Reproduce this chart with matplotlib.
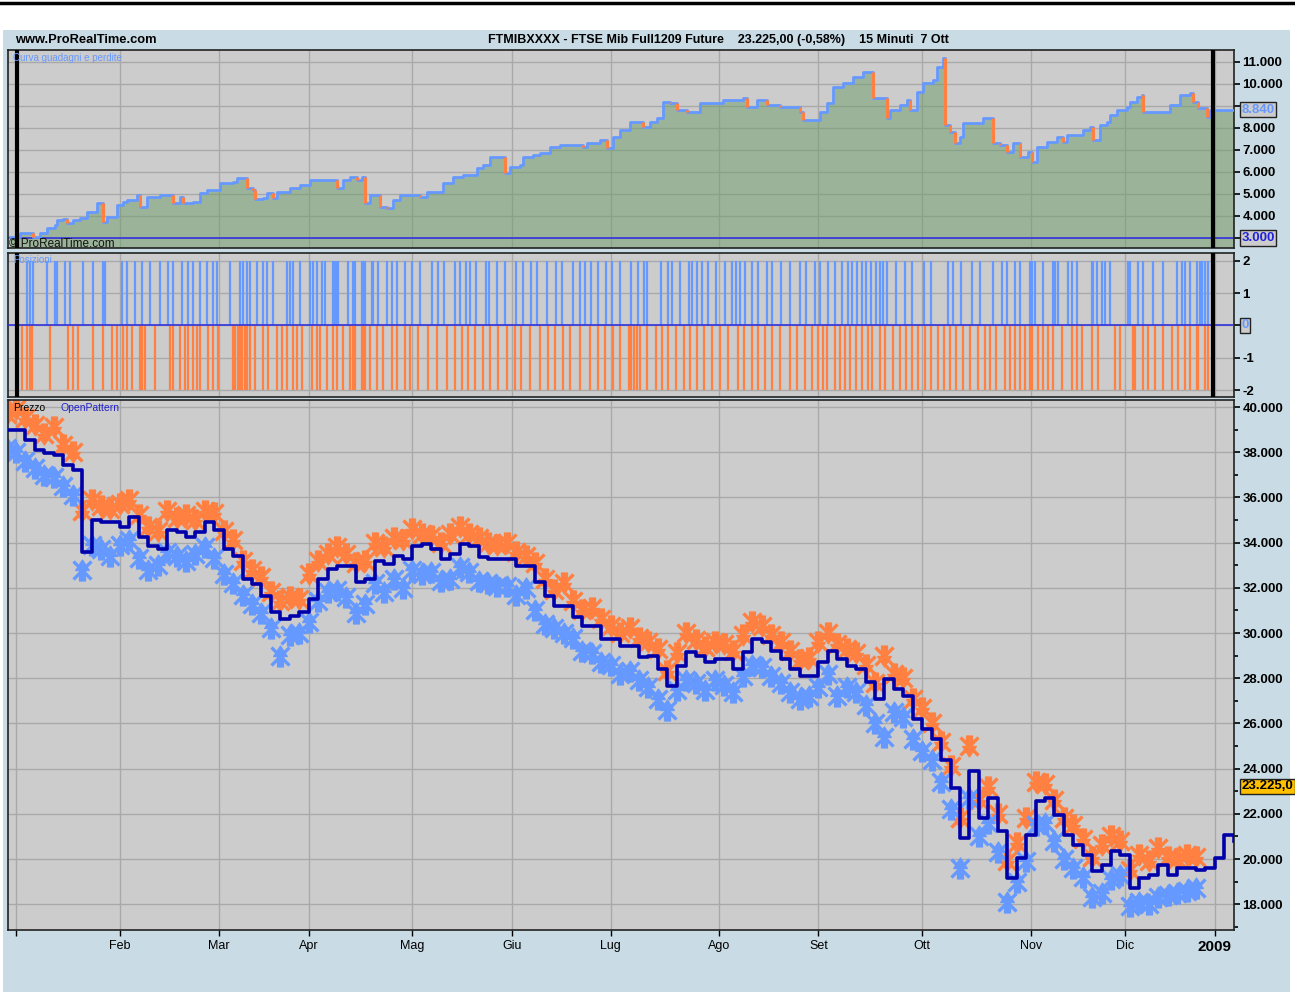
import numpy as np
import matplotlib.pyplot as plt
from matplotlib.path import Path
from matplotlib.patches import Rectangle
from matplotlib.lines import Line2D

# ---- data (x = trading day, 0 = 2 Jan 2008) ----
month_days = [0, 22, 43, 62, 84, 105, 126, 149, 170, 192, 215, 235, 254]
month_labels = ["", "Feb", "Mar", "Apr", "Mag", "Giu", "Lug", "Ago", "Set", "Ott", "Nov", "Dic", "2009"]
backtest_start = 0.2
backtest_end = 253.6

# equity curve (day, value)
equity = [
    (-1.3, 3050), (0.8, 3230), (3.6, 3050), (5.1, 3230), (6.6, 3450), (8.3, 3590), (8.7, 3820), (10.0, 3860),
    (10.8, 3680), (12.1, 3820), (13.6, 3910), (15.0, 4180), (17.2, 4590), (18.4, 3730), (19.3, 3950), (21.4, 4500),
    (22.7, 4640), (23.5, 4730), (25.6, 4950), (26.3, 4410), (27.8, 4860), (30.5, 4950), (33.3, 4590), (34.7, 4860),
    (35.4, 4590), (37.5, 4640), (39.0, 5050), (40.5, 5180), (43.2, 5500), (46.0, 5550), (46.8, 5730), (48.9, 5270),
    (50.2, 5180), (50.6, 4770), (52.3, 4820), (53.2, 5050), (54.4, 4820), (55.3, 5090), (58.1, 5270), (60.2, 5410),
    (62.3, 5640), (68.0, 5270), (69.3, 5640), (70.8, 5770), (72.2, 5640), (73.3, 5770), (73.9, 4590), (75.0, 4950),
    (77.1, 4410), (78.6, 4360), (79.9, 4730), (81.4, 4950), (85.6, 4860), (87.1, 5090), (90.5, 5500), (92.6, 5770),
    (94.7, 5860), (97.7, 6180), (98.9, 6320), (100.4, 6680), (103.6, 5950), (104.7, 6230), (106.8, 6320),
    (107.4, 6680), (109.5, 6770), (111.0, 6860), (113.1, 7140), (115.3, 7230), (120.1, 7140), (121.0, 7320),
    (123.7, 7450), (125.2, 7090), (126.5, 7590), (128.0, 7910), (130.1, 8270), (132.8, 8050), (134.3, 8270),
    (135.8, 8450), (137.1, 9180), (138.6, 9140), (140.0, 8820), (142.2, 8730), (144.9, 9140), (149.8, 9270),
    (154.0, 9360), (154.9, 8950), (157.0, 9270), (159.1, 9050), (161.9, 8950), (166.1, 8730), (166.7, 8360),
    (170.3, 8730), (171.8, 9140), (173.1, 9860), (175.2, 10050), (177.3, 10320), (179.4, 10550), (181.6, 9360),
    (184.5, 8450), (185.2, 8820), (187.3, 9050), (188.8, 9270), (189.4, 8820), (190.9, 9640), (192.2, 10050),
    (194.3, 10180), (195.1, 10770), (196.4, 11180), (196.8, 8140), (197.9, 7820), (198.9, 7320), (200.0, 7590),
    (200.6, 8230), (204.9, 8450), (207.0, 7320), (208.5, 7230), (210.0, 6910), (211.2, 7320), (212.7, 6680),
    (214.4, 6910), (215.3, 6450), (216.3, 7140), (218.4, 7360), (220.6, 7590), (221.8, 7360), (222.7, 7680),
    (226.1, 7910), (227.5, 8050), (228.2, 7450), (229.7, 8140), (231.1, 8270), (231.8, 8590), (233.3, 8820),
    (235.4, 8950), (236.0, 9180), (237.5, 9410), (238.6, 9500), (238.8, 8730), (244.5, 9050), (246.6, 9500),
    (248.7, 9590), (249.4, 9180), (250.4, 8910), (252.3, 8500), (252.9, 8840), (258.0, 8840),
]
equity_last = 8840
equity_start = 3000

# positions: long (+2) and short (-2) bars
long_days = [2.3, 3.0, 3.6, 6.6, 8.3, 8.7, 10.4, 11.4, 14.2, 16.3, 18.4, 18.9, 22.5, 23.5, 25.2, 26.7, 28.4,
             30.5, 32.2, 33.3, 35.2, 36.4, 37.5, 39.0, 40.5, 41.7, 42.6, 45.3, 47.5, 48.1, 48.9, 49.6, 51.1,
             52.3, 53.2, 54.5, 57.4, 58.1, 58.7, 60.2, 62.3, 62.9, 63.8, 64.8, 65.5, 67.2, 67.6, 68.0, 68.2,
             70.4, 71.4, 71.8, 73.3, 73.5, 74.0, 75.4, 75.6, 76.7, 78.6, 79.7, 80.7, 82.4, 83.9, 85.6, 88.1,
             89.4, 90.7, 93.0, 94.1, 95.3, 96.2, 97.5, 99.6, 100.2, 101.9, 103.6, 106.0, 107.4, 109.1, 110.4,
             112.5, 114.4, 115.7, 118.0, 119.5, 120.6, 121.8, 123.3, 125.0, 126.3, 128.0, 130.3, 131.8, 133.1,
             133.7, 136.7, 138.1, 139.0, 140.7, 142.6, 143.2, 144.3, 145.3, 146.6, 148.3, 150.2, 151.7, 152.5,
             153.4, 154.4, 155.9, 157.2, 159.1, 160.2, 162.1, 164.0, 166.1, 167.4, 169.3, 170.3, 172.0, 173.5,
             175.0, 176.3, 177.1, 178.2, 179.2, 180.1, 181.1, 182.2, 183.1, 183.7, 184.5, 186.4, 188.3, 189.8,
             192.4, 193.9, 197.5, 198.5, 200.2, 202.5, 204.2, 207.0, 208.9, 210.0, 211.7, 212.7, 214.8, 215.3,
             215.9, 217.6, 219.7, 220.1, 220.8, 222.9, 223.7, 224.8, 228.0, 228.2, 229.0, 230.1, 230.7, 231.8,
             235.6, 236.0, 237.7, 238.8, 240.9, 243.0, 245.9, 247.0, 247.7, 248.7, 250.2, 250.8, 251.3, 251.9,
             252.5]
short_days = [1.3, 2.3, 3.0, 3.4, 7.2, 11.0, 12.1, 13.1, 16.3, 18.4, 20.3, 21.4, 22.7, 23.5, 24.6, 26.3, 26.7,
              27.3, 29.4, 32.6, 33.3, 34.7, 35.8, 36.4, 37.5, 38.3, 39.0, 40.7, 41.7, 42.8, 46.0, 46.4, 47.0,
              47.5, 47.9, 48.5, 48.9, 49.6, 50.6, 52.3, 53.4, 55.3, 56.4, 57.4, 58.7, 59.5, 60.6, 62.7, 63.8,
              64.4, 65.9, 67.2, 68.0, 69.3, 70.8, 71.4, 71.8, 73.3, 73.5, 74.0, 75.0, 76.5, 77.8, 79.7, 80.7,
              82.4, 83.5, 85.2, 87.3, 89.2, 91.3, 93.0, 94.5, 95.8, 97.3, 98.9, 100.4, 102.1, 104.0, 105.7,
              107.0, 108.9, 111.0, 112.7, 114.2, 115.9, 117.4, 119.5, 121.6, 123.3, 124.8, 126.5, 128.0, 129.9,
              130.3, 131.0, 131.6, 132.2, 133.7, 135.6, 136.9, 138.1, 139.8, 141.5, 142.8, 144.3, 145.8, 147.5,
              149.2, 150.8, 153.0, 154.2, 155.9, 157.2, 158.7, 160.2, 161.9, 164.0, 165.5, 167.2, 168.6, 169.9,
              171.0, 171.8, 173.5, 174.6, 175.6, 176.7, 178.0, 179.2, 180.5, 181.4, 183.1, 184.1, 185.8, 187.3,
              188.6, 189.8, 191.1, 192.6, 193.9, 195.3, 196.6, 197.9, 199.2, 200.6, 202.1, 203.8, 205.3, 206.4,
              207.6, 209.5, 210.6, 211.7, 212.7, 213.8, 214.8, 215.3, 216.5, 217.6, 218.6, 219.7, 221.6, 223.7,
              224.8, 225.8, 228.0, 229.2, 232.8, 233.9, 236.7, 237.1, 238.8, 239.8, 241.3, 243.0, 244.9, 246.2,
              247.7, 248.7, 250.2, 250.4, 251.9, 252.5]

# price panel: OpenPattern line sampled every 2 trading days from day -2
price_day = np.arange(-2, 259, 2)
price_line = [
    38990, 38990, 38550, 38110, 37970, 37890, 37450, 37230, 33570, 35020,
    34890, 34890, 34710, 35150, 34270, 33830, 33700, 34580, 34450, 34270,
    34450, 34890, 34580, 33700, 33390, 32380, 32160, 31630, 30930, 30620,
    30750, 30930, 31500, 32380, 32820, 32950, 32950, 32250, 32380, 33170,
    33040, 33390, 33260, 33830, 33920, 33700, 33260, 33480, 33920, 33830,
    33350, 33260, 33260, 33260, 32950, 32950, 32250, 31630, 31190, 31190,
    30710, 30310, 30310, 29740, 29740, 29430, 29430, 28940, 28990, 28420,
    27670, 28550, 29160, 28990, 28720, 28860, 28860, 28420, 29160, 29740,
    29600, 29200, 28860, 28420, 28110, 28110, 28720, 29210, 28860, 28550,
    28420, 27840, 27090, 27970, 27530, 27230, 26210, 25770, 25330, 24360,
    23130, 20930, 23880, 21810, 22690, 21240, 19160, 20050, 21060, 22560,
    22690, 21940, 21060, 20620, 20180, 19470, 19740, 20350, 20180, 18720,
    19160, 19300, 19740, 19300, 19600, 19600, 19520, 19600, 20050, 21060,
    20790,
]
# sell signals (orange, above) and buy signals (blue, below), same days up to day 250
signal_day = np.arange(-2, 251, 2)
sell_signal = [
    39700, 39900, 39500, 39200, 38800, 39100, 38300, 38000, 35400, 35900,
    35600, 35500, 35700, 35900, 35200, 34700, 34500, 35400, 35100, 35200,
    35000, 35400, 35300, 34500, 34100, 33200, 32800, 32500, 31800, 31400,
    31600, 31500, 32600, 33200, 33500, 33800, 33500, 33100, 33200, 34000,
    33800, 34200, 34100, 34600, 34400, 34300, 34000, 34400, 34700, 34400,
    34200, 34000, 33900, 34000, 33600, 33400, 33100, 32400, 31900, 32200,
    31400, 31000, 31100, 30600, 30300, 30000, 30200, 29800, 29600, 29300,
    28300, 29100, 30000, 29700, 29400, 29600, 29500, 29200, 29900, 30500,
    30300, 29900, 29600, 29200, 28800, 28900, 29600, 30000, 29500, 29300,
    29100, 28600, 27800, 29000, 28200, 28000, 27100, 26700, 26000, 25200,
    24100, 21800, 25000, 22600, 23200, 22000, 19900, 20700, 21800, 23400,
    23300, 22600, 21800, 21500, 20900, 20100, 20600, 21000, 20800, 19500,
    20200, 19900, 20500, 20100, 20000, 20200, 20100,
]
buy_signal = [
    38200, 38000, 37600, 37300, 37000, 36900, 36500, 36100, 32800, 33900,
    33700, 33400, 33900, 34100, 33300, 32800, 33000, 33600, 33400, 33200,
    33500, 33800, 33300, 32600, 32200, 31700, 31300, 30900, 30200, 29000,
    29900, 30000, 30500, 31400, 31800, 31900, 31600, 30900, 31300, 32200,
    31800, 32400, 32000, 32800, 32600, 32700, 32300, 32400, 32900, 32700,
    32300, 32200, 32100, 32100, 31700, 32000, 31000, 30400, 30200, 30000,
    29800, 29200, 29100, 28700, 28600, 28200, 28300, 27900, 27600, 27100,
    26600, 27500, 27900, 27800, 27500, 27900, 27700, 27400, 28100, 28600,
    28500, 28100, 27800, 27400, 27100, 27200, 27600, 28200, 27200, 27600,
    27400, 26800, 26000, 25400, 26500, 26300, 25300, 24800, 24400, 23400,
    22200, 19600, 22700, 21000, 21600, 20300, 18100, 19000, 19900, 21500,
    21600, 20800, 20000, 19600, 19200, 18300, 18500, 19100, 19300, 17900,
    18100, 18000, 18300, 18400, 18500, 18600, 18700,
]
last_price = 23225

# ---- styling ----
W, H = 1295, 992
BG = "#C9DCE5"
PANEL = "#CCCCCC"
GRID = "#A9A9A9"
BLUE = "#6699FF"
ORANGE = "#FF8040"
DARK = "#0000AA"
FONT = ["Liberation Sans", "DejaVu Sans"]
plt.rcParams["font.family"] = FONT

eq_day, eq_val = map(np.array, zip(*equity))
XLIM = (-1.7, 258.05)


def thousands(v):
    return f"{v:,.0f}".replace(",", ".")


def style_panel(ax, ylim, yticks, ylabels):
    ax.set_facecolor(PANEL)
    ax.set_xlim(*XLIM)
    ax.set_ylim(*ylim)
    ax.yaxis.tick_right()
    ax.set_xticks(month_days)
    ax.set_yticks(yticks, labels=ylabels, fontweight="bold", fontsize=9.5)
    ax.grid(True, color=GRID, lw=1)
    ax.set_axisbelow(True)
    for s in ax.spines.values():
        s.set_color("#222222")
        s.set_linewidth(1.2)
    ax.tick_params(axis="y", direction="out", length=4, width=1.2, pad=2)


def box_label(ax, y, text, color, face):
    ax.text(1.006, y, text, transform=ax.get_yaxis_transform(), ha="left", va="center",
            fontsize=9.5, fontweight="bold", color=color,
            bbox=dict(boxstyle="square,pad=0.12", fc=face, ec="#222222", lw=1))


fig = plt.figure(figsize=(W / 100, H / 100), dpi=100)
fig.patch.set_facecolor("white")
fig.add_artist(Rectangle((3 / W, 0), 1287 / W, 1 - 30 / H, transform=fig.transFigure,
                         fc=BG, ec="none", zorder=-10))
fig.add_artist(Line2D([0, 1], [1 - 3 / H] * 2, color="black", lw=2.5))

fig.text(15 / W, 1 - 40 / H, "www.ProRealTime.com", fontsize=9.3, fontweight="bold", va="center")
fig.text(488 / W, 1 - 40 / H,
         "FTMIBXXXX - FTSE Mib Full1209 Future    23.225,00 (-0,58%)    15 Minuti  7 Ott",
         fontsize=9, fontweight="bold", va="center")

# equity panel
ax_eq = fig.add_axes([8 / W, 1 - 248 / H, 1226 / W, 198 / H])
eq_ticks = list(range(3000, 11001, 1000))
eq_labels = ["" if t in (3000, 9000) else thousands(t) for t in eq_ticks]
style_panel(ax_eq, (2545, 11545), eq_ticks, eq_labels)
ax_eq.tick_params(axis="x", length=0, labelbottom=False)
ax_eq.fill_between(eq_day, eq_val, 2545, step="post", color="#6C9E68", alpha=0.5, lw=0, zorder=1)
ax_eq.plot(eq_day, eq_val, drawstyle="steps-post", color=BLUE, lw=2, zorder=3)
drop = np.where(np.diff(eq_val) < 0)[0] + 1
ax_eq.vlines(eq_day[drop], eq_val[drop], eq_val[drop - 1], color=ORANGE, lw=2.2, zorder=4)
ax_eq.axhline(equity_start, color="#3333DD", lw=1.2, zorder=2)
for d in (backtest_start, backtest_end):
    ax_eq.axvline(d, color="black", lw=3, zorder=5)
box_label(ax_eq, equity_last, thousands(equity_last), BLUE, PANEL)
box_label(ax_eq, equity_start, thousands(equity_start), "#2222DD", PANEL)
ax_eq.text(0.004, 0.985, "Curva guadagni e perdite", transform=ax_eq.transAxes, fontsize=7,
           color=BLUE, va="top", ha="left", zorder=6)
ax_eq.text(0.001, -0.01, "\u00a9 ProRealTime.com", transform=ax_eq.transAxes, fontsize=8.5,
           color="#111111", va="bottom", ha="left", zorder=6)

# positions panel
ax_pos = fig.add_axes([8 / W, 1 - 397 / H, 1226 / W, 144 / H])
style_panel(ax_pos, (-2.217, 2.248), [-2, -1, 0, 1, 2], ["-2", "-1", "", "1", "2"])
ax_pos.tick_params(axis="x", length=0, labelbottom=False)
ax_pos.vlines(long_days, 0, 2, color=BLUE, lw=1.6, zorder=2)
ax_pos.vlines(short_days, -2, 0, color=ORANGE, lw=1.6, zorder=2)
ax_pos.axhline(0, color="#3333DD", lw=1.2, zorder=3)
for d in (backtest_start, backtest_end):
    ax_pos.axvline(d, color="black", lw=3, zorder=5)
box_label(ax_pos, 0, "0", BLUE, PANEL)
ax_pos.text(0.004, 0.985, "Posizioni", transform=ax_pos.transAxes, fontsize=7,
            color=BLUE, va="top", ha="left", zorder=6)

# price panel
ax_px = fig.add_axes([8 / W, 1 - 930 / H, 1226 / W, 530 / H])
px_ticks = list(range(18000, 40001, 2000))
style_panel(ax_px, (16860, 40310), px_ticks, [thousands(t) for t in px_ticks])
ax_px.set_yticks(range(17000, 40000, 2000), minor=True)
ax_px.tick_params(axis="y", which="minor", direction="out", length=3, width=1.2)
ax_px.set_xticks(month_days, labels=month_labels, fontsize=9)
ax_px.tick_params(axis="x", direction="out", length=4, width=1, pad=3)
lbl = ax_px.get_xticklabels()[-1]
lbl.set_fontweight("bold")
lbl.set_fontsize(11)

arrow_down = Path([(-0.28, 1), (0.28, 1), (0.28, 0), (0.65, 0), (0, -1), (-0.65, 0), (-0.28, 0), (-0.28, 1)],
                  [Path.MOVETO] + [Path.LINETO] * 6 + [Path.CLOSEPOLY])
arrow_up = Path([(-0.28, -1), (0.28, -1), (0.28, 0), (0.65, 0), (0, 1), (-0.65, 0), (-0.28, 0), (-0.28, -1)],
                [Path.MOVETO] + [Path.LINETO] * 6 + [Path.CLOSEPOLY])
sell = np.array(sell_signal)
buy = np.array(buy_signal)
# every signal bar carries both an arrow and a cross, which gives the blobs of the original
for vals, arrow, col in ((sell, arrow_down, ORANGE), (buy, arrow_up, BLUE)):
    ax_px.plot(signal_day, vals, ls="none", marker=arrow, ms=15, color=col, zorder=2)
    ax_px.plot(signal_day, vals, ls="none", marker="x", ms=13, mew=2.4, color=col, zorder=2)
ax_px.plot(price_day, price_line, drawstyle="steps-post", color=DARK, lw=2.6, zorder=4)
ax_px.text(1.006, last_price, "23.225,0", transform=ax_px.get_yaxis_transform(), ha="left", va="center",
           fontsize=9.5, fontweight="bold", color="black",
           bbox=dict(boxstyle="square,pad=0.12", fc="#FFC000", ec="#222222", lw=1))
ax_px.text(0.004, 0.995, "Prezzo", transform=ax_px.transAxes, fontsize=7.5, color="black", va="top", ha="left")
ax_px.text(0.043, 0.995, "OpenPattern", transform=ax_px.transAxes, fontsize=7.5, color="#2222CC",
           va="top", ha="left")

fig.savefig("out.png", dpi=100)
